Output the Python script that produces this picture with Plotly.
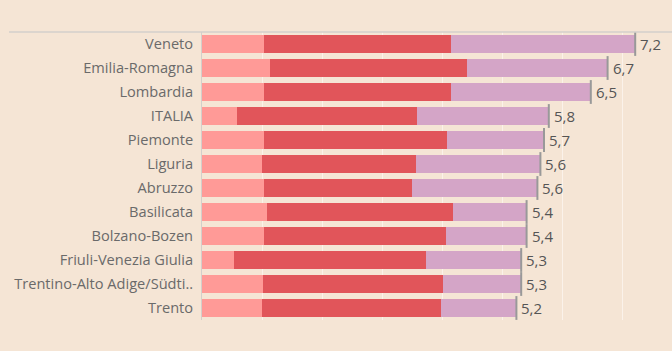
import plotly.graph_objects as go

regions = ["Veneto", "Emilia-Romagna", "Lombardia", "ITALIA", "Piemonte", "Liguria",
           "Abruzzo", "Basilicata", "Bolzano-Bozen", "Friuli-Venezia Giulia",
           "Trentino-Alto Adige/Südti..", "Trento"]
seg_light = [1.04, 1.13, 1.03, 0.58, 1.03, 1.00, 1.04, 1.08, 1.04, 0.54, 1.02, 1.00]
seg_red = [3.11, 3.28, 3.12, 3.01, 3.05, 2.56, 2.46, 3.10, 3.02, 3.19, 3.00, 2.99]
seg_purple = [3.07, 2.35, 2.33, 2.19, 1.62, 2.08, 2.09, 1.23, 1.35, 1.59, 1.30, 1.25]
totals = [7.2, 6.7, 6.5, 5.8, 5.7, 5.6, 5.6, 5.4, 5.4, 5.3, 5.3, 5.2]

BG = "#F5E5D5"
FONT = "Open Sans"

fig = go.Figure()
for vals, col in [(seg_light, "#FF9A97"), (seg_red, "#E1555A"), (seg_purple, "#D4A5C7")]:
    fig.add_trace(go.Bar(y=regions, x=vals, orientation="h", marker=dict(color=col, line=dict(width=0)),
                         showlegend=False, hoverinfo="skip"))

ends = [a + b + c for a, b, c in zip(seg_light, seg_red, seg_purple)]
fig.add_trace(go.Scatter(y=regions, x=ends, mode="markers",
                         marker=dict(symbol="line-ns", size=17, line=dict(width=2, color="#999999")),
                         showlegend=False, hoverinfo="skip"))

for r, e, t in zip(regions, ends, totals):
    fig.add_annotation(x=e, y=r, text=f"{t:.1f}".replace(".", ","), showarrow=False,
                       xanchor="left", xshift=3, font=dict(family=FONT, size=15, color="#555555"))

fig.add_shape(type="line", xref="paper", yref="paper", x0=-193/470, x1=1, y0=1, y1=1,
              line=dict(color="#D3CFCB", width=1.5))

fig.update_layout(
    width=672, height=351,
    margin=dict(l=202, r=0, t=32, b=31),
    paper_bgcolor=BG, plot_bgcolor=BG,
    barmode="stack", bargap=0.25,
    xaxis=dict(range=[0, 470/60], showgrid=True, gridcolor="#FBF2EA", gridwidth=1,
               showticklabels=False, zeroline=False, showline=False, dtick=1, tick0=0),
    yaxis=dict(range=[len(regions) - 0.5, -0.5], showgrid=False, showline=True,
               linecolor="#D3CFCB", linewidth=1,
               ticks="outside", ticklen=5, tickcolor="rgba(0,0,0,0)",
               tickfont=dict(family=FONT, size=14.6, color="#6A6A6A")),
)

fig.write_html("out.html")
